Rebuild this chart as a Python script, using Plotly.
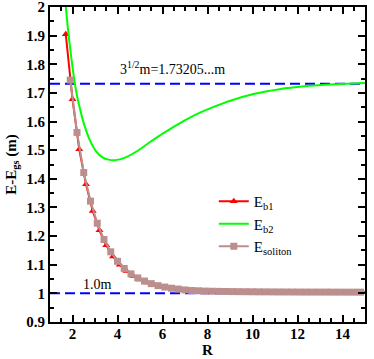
import plotly.graph_objects as go

# E_b1 (triangles) and E_soliton (squares) sit on the same decaying curve
r_b1 = [1.7, 2.0, 2.3, 2.6, 2.9, 3.2, 3.5, 3.8, 4.1, 4.4, 4.7, 5.0, 5.3, 5.6, 5.9,
        6.2, 6.5, 6.8, 7.1, 7.4, 7.7, 8.0, 8.3, 8.6, 8.9, 9.2, 9.5, 9.8, 10.1, 10.4,
        10.7, 11.0, 11.3, 11.6, 11.9, 12.2, 12.5, 12.8, 13.1, 13.4, 13.7, 14.0, 14.3,
        14.6, 14.9]
e_b1 = [1.905, 1.678, 1.503, 1.381, 1.288, 1.220, 1.168, 1.129, 1.100, 1.078, 1.061,
        1.048, 1.038, 1.030, 1.024, 1.019, 1.016, 1.013, 1.011, 1.0095, 1.0085, 1.0077,
        1.0072, 1.0068, 1.0064, 1.0061, 1.0058, 1.0056, 1.0054, 1.0052, 1.0051, 1.005,
        1.0049, 1.0048, 1.0047, 1.0046, 1.0045, 1.0045, 1.0044, 1.0044, 1.0043, 1.0043,
        1.0042, 1.0042, 1.0042]

r_sol = [1.9, 2.2, 2.5, 2.8, 3.1, 3.4, 3.7, 4.0, 4.3, 4.6, 4.9, 5.2, 5.5, 5.8, 6.1,
         6.4, 6.7, 7.0, 7.3, 7.6, 7.9, 8.2, 8.5, 8.8, 9.1, 9.4, 9.7, 10.0, 10.3, 10.6,
         10.9, 11.2, 11.5, 11.8, 12.1, 12.4, 12.7, 13.0, 13.3, 13.6, 13.9, 14.2, 14.5,
         14.8]
e_sol = [1.745, 1.562, 1.422, 1.322, 1.245, 1.188, 1.145, 1.112, 1.087, 1.068, 1.054,
         1.043, 1.034, 1.027, 1.022, 1.018, 1.015, 1.012, 1.010, 1.009, 1.008, 1.0074,
         1.007, 1.0066, 1.0062, 1.0059, 1.0057, 1.0055, 1.0053, 1.0052, 1.005, 1.0049,
         1.0048, 1.0047, 1.0046, 1.0045, 1.0045, 1.0044, 1.0044, 1.0043, 1.0043, 1.0042,
         1.0042, 1.0042]

r_b2 = [1.68, 1.75, 1.85, 2.0, 2.1, 2.2, 2.3, 2.46, 2.6, 2.76, 3.05, 3.35, 3.6, 3.87,
        4.1, 4.39, 4.9, 5.4, 5.87, 6.3, 6.76, 7.2, 7.64, 8.3, 8.98, 10.09, 11.2, 12.3,
        13.42, 15.0]
e_b2 = [2.02, 1.96, 1.885, 1.79, 1.735, 1.69, 1.655, 1.605, 1.57, 1.537, 1.496, 1.474,
        1.467, 1.465, 1.468, 1.476, 1.498, 1.526, 1.551, 1.572, 1.594, 1.613, 1.630,
        1.652, 1.672, 1.697, 1.713, 1.723, 1.729, 1.735]

r_ref = [1, 15]
e_top = [1.73205, 1.73205]
e_bottom = [1.0, 1.0]

SERIF = "Times New Roman, Liberation Serif, serif"

fig = go.Figure()
fig.add_trace(go.Scatter(x=r_ref, y=e_top, mode='lines', showlegend=False,
                         line=dict(color='#0000ff', width=2, dash='10px,5px')))
fig.add_trace(go.Scatter(x=r_ref, y=e_bottom, mode='lines', showlegend=False,
                         line=dict(color='#0000ff', width=2, dash='10px,5px')))
fig.add_trace(go.Scatter(x=r_b1, y=e_b1, mode='lines+markers', name='E<sub>b1</sub>',
                         line=dict(color='#ff0000', width=2),
                         marker=dict(symbol='triangle-up', size=7, color='#ff0000')))
fig.add_trace(go.Scatter(x=r_b2, y=e_b2, mode='lines', name='E<sub>b2</sub>',
                         line=dict(color='#00ff00', width=2, shape='spline', smoothing=0.6)))
fig.add_trace(go.Scatter(x=r_sol, y=e_sol, mode='lines+markers', name='E<sub>soliton</sub>',
                         line=dict(color='#bc8f8f', width=2),
                         marker=dict(symbol='square', size=7, color='#bc8f8f')))

fig.add_annotation(x=6.44, y=1.787, text='3<sup>1/2</sup>m=1.73205...m', showarrow=False,
                   font=dict(family=SERIF, size=14, color='black'))
fig.add_annotation(x=3.11, y=1.031, text='1.0m', showarrow=False,
                   font=dict(family=SERIF, size=14, color='black'))

axis_common = dict(showline=True, linecolor='black', linewidth=2, mirror='allticks',
                   ticks='inside', ticklen=7, tickwidth=1.5, tickcolor='black',
                   showgrid=False, zeroline=False, automargin=False,
                   ticklabeloverflow='allow',
                   tickfont=dict(family=SERIF, size=15, color='black', weight='bold'))

fig.update_xaxes(range=[1, 15], dtick=2, tick0=0, ticklabelstandoff=-3,
                 minor=dict(dtick=0.5, ticks='inside', ticklen=4, tickcolor='black', tickwidth=1.5),
                 title=dict(text='<b>R</b>', font=dict(family=SERIF, size=15, color='black'),
                            standoff=0),
                 **axis_common)
fig.update_yaxes(range=[0.9, 2.0], dtick=0.1, tick0=0,
                 minor=dict(dtick=0.05, ticks='inside', ticklen=4, tickcolor='black', tickwidth=1.5),
                 title=dict(text='<b>E-E<sub>gs</sub> (m)</b>',
                            font=dict(family=SERIF, size=15, color='black'), standoff=6),
                 **axis_common)

fig.update_layout(width=374, height=359, plot_bgcolor='white', paper_bgcolor='white',
                  margin=dict(l=50, r=9, t=7, b=37),
                  legend=dict(x=0.52, y=0.435, xanchor='left', yanchor='top',
                              bgcolor='rgba(0,0,0,0)', borderwidth=0,
                              font=dict(family=SERIF, size=15, color='black'),
                              tracegroupgap=0))
# page body has a default 8px margin; drop it so the figure sits at the corner
fig.write_html("out.html", config={'displayModeBar': False},
               post_script="document.body.style.margin='0';")
